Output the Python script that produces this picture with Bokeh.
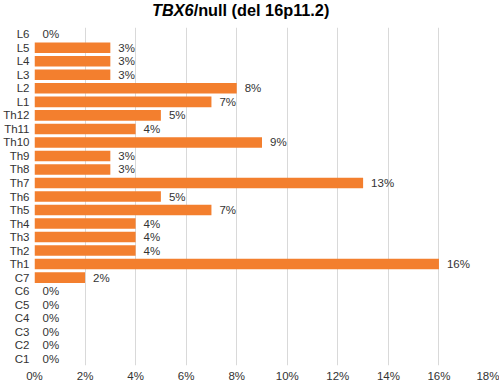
from bokeh.plotting import figure
from bokeh.models import ColumnDataSource, FactorRange, Range1d, FixedTicker, PrintfTickFormatter, Div
from bokeh.layouts import column
from bokeh.core.properties import value
from bokeh.embed import file_html
from bokeh.resources import INLINE

# Data (bottom to top)
segments = ["C1", "C2", "C3", "C4", "C5", "C6", "C7",
            "Th1", "Th2", "Th3", "Th4", "Th5", "Th6", "Th7", "Th8", "Th9", "Th10", "Th11", "Th12",
            "L1", "L2", "L3", "L4", "L5", "L6"]
percent = [0, 0, 0, 0, 0, 0, 2,
           16, 4, 4, 4, 7, 5, 13, 3, 3, 9, 4, 5,
           7, 8, 3, 3, 3, 0]
x_ticks = [0, 2, 4, 6, 8, 10, 12, 14, 16, 18]
title_italic = "TBX6"
title_rest = "/null (del 16p11.2)"

FONT = "Liberation Sans"
BAR = "#F37F2E"
TXT = "#333333"

source = ColumnDataSource(dict(seg=segments, pct=percent, lbl=[f"{v}%" for v in percent]))

title = Div(text=f"<b><i>{title_italic}</i>{title_rest}</b>", width=499, height=20, margin=0,
            styles={"font-family": FONT, "font-size": "16.3px", "color": "#000000",
                    "padding-left": "152px", "line-height": "20px", "white-space": "nowrap"})

p = figure(width=499, height=364, output_backend="svg", toolbar_location=None,
           y_range=FactorRange(factors=segments), x_range=Range1d(0, 18),
           min_border_top=7, min_border_bottom=18, min_border_left=10, min_border_right=10,
           title=None, margin=0)

p.hbar(y="seg", right="pct", left=0, height=0.78, source=source, color=BAR, line_color=None)
p.text(x="pct", y="seg", text="lbl", source=source, x_offset=8, text_baseline="middle",
       text_align="left", text_font=value(FONT), text_font_size="11.5px", text_color=TXT)

p.xaxis.ticker = FixedTicker(ticks=x_ticks)
p.xaxis.formatter = PrintfTickFormatter(format="%d%%")
for ax in (p.xaxis, p.yaxis):
    ax.axis_line_color = None
    ax.major_tick_line_color = None
    ax.minor_tick_line_color = None
    ax.major_tick_in = 0
    ax.major_tick_out = 0
    ax.major_label_text_font = FONT
    ax.major_label_text_font_size = "11.5px"
    ax.major_label_text_color = TXT
p.xaxis.major_label_standoff = 4
p.yaxis.major_label_standoff = 5

p.xgrid.ticker = FixedTicker(ticks=x_ticks)
p.xgrid.grid_line_color = "#d9d9d9"
p.xgrid.grid_line_width = 1
p.ygrid.grid_line_color = None
p.outline_line_color = None

layout = column(title, p, spacing=0)
open("out.html", "w").write(file_html(layout, INLINE))
